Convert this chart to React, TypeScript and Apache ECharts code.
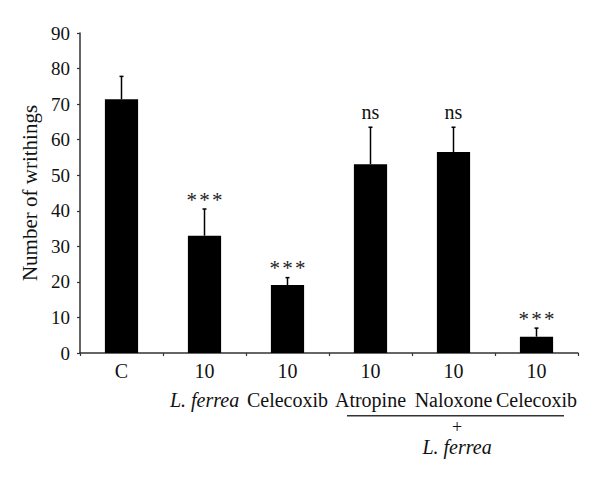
import React, { useEffect, useRef } from "react";
import * as echarts from "echarts";

const groups = ["C", "L. ferrea", "Celecoxib", "Atropine", "Naloxone", "Celecoxib"];
const doses = ["", "10", "10", "10", "10", "10"];
const italicGroup = [false, true, false, false, false, false];
const means = [71.4, 33.0, 19.1, 53.1, 56.5, 4.6];
const errorTops = [77.8, 40.5, 21.2, 63.5, 63.5, 7.0];
const marks = ["", "***", "***", "ns", "ns", "***"];
const yTicks = { min: 0, max: 90, interval: 10 };
const yTitle = "Number of writhings";
const bracketLabel = ["+", "L. ferrea"];

const FONT = "'Liberation Serif', 'DejaVu Serif', serif";

export default function App() {
  const ref = useRef<HTMLDivElement>(null);
  useEffect(() => {
    document.body.style.margin = "0";
    const chart = echarts.init(ref.current!, null, { renderer: "svg" });
    const errData = means.map((m, i) => [i, m, errorTops[i]]);
    chart.setOption({
      animation: false,
      grid: { left: 80, right: 22, top: 33, bottom: 126, containLabel: false, outerBoundsMode: "none" },
      xAxis: {
        type: "category",
        data: groups.map((g, i) => g + "#" + i),
        axisLine: { lineStyle: { color: "#333", width: 1.5 } },
        axisTick: { show: true, length: 3, lineStyle: { color: "#333", width: 1.2 } },
        axisLabel: {
          interval: 0,
          margin: 3,
          fontFamily: FONT,
          fontSize: 20,
          color: "#111",
          formatter: (_v: string, idx: number) => {
            const name = groups[idx];
            const nameStr = italicGroup[idx] ? `{i|${name}}` : `{r|${name}}`;
            if (!doses[idx]) return nameStr;
            return `{r|${doses[idx]}}\n${nameStr}`;
          },
          rich: {
            r: { fontFamily: FONT, fontSize: 20, color: "#111", lineHeight: 29 },
            i: { fontFamily: FONT, fontSize: 20, fontStyle: "italic", color: "#111", lineHeight: 29 },
          },
        },
      },
      yAxis: {
        type: "value",
        min: yTicks.min,
        max: yTicks.max,
        interval: yTicks.interval,
        name: yTitle,
        nameLocation: "middle",
        nameGap: 39,
        nameTextStyle: { fontFamily: FONT, fontSize: 21, color: "#111" },
        splitLine: { show: false },
        axisLine: { show: true, lineStyle: { color: "#333", width: 1.5 } },
        axisTick: { show: true, length: 3, lineStyle: { color: "#333", width: 1.2 } },
        axisLabel: { fontFamily: FONT, fontSize: 19, color: "#111", margin: 10 },
      },
      series: [
        {
          type: "bar",
          data: means,
          barWidth: "40%",
          itemStyle: { color: "#000" },
        },
        {
          type: "custom",
          data: errData,
          z: 3,
          renderItem: (params: any, api: any) => {
            const i = api.value(0);
            const base = api.coord([i, api.value(1)]);
            const top = api.coord([i, api.value(2)]);
            const mark = marks[params.dataIndex];
            const children: any[] = [
              {
                type: "line",
                shape: { x1: base[0], y1: base[1], x2: top[0], y2: top[1] },
                style: { stroke: "#000", lineWidth: 1.5 },
              },
              {
                type: "line",
                shape: { x1: top[0] - 2, y1: top[1], x2: top[0] + 2, y2: top[1] },
                style: { stroke: "#000", lineWidth: 1.5 },
              },
            ];
            if (mark) {
              const isStar = mark.indexOf("*") >= 0;
              if (isStar) {
                [-12.7, 0, 12.7].forEach((dx) => {
                  children.push({
                    type: "text",
                    x: top[0] + dx,
                    y: top[1] - 9.5,
                    style: {
                      text: "*",
                      fontFamily: FONT,
                      fontSize: 21,
                      fill: "#222",
                      align: "center",
                      verticalAlign: "middle",
                    },
                  });
                });
              } else {
                children.push({
                  type: "text",
                  x: top[0],
                  y: top[1] - 5,
                  style: {
                    text: mark,
                    fontFamily: FONT,
                    fontSize: 20,
                    fill: "#111",
                    align: "center",
                    verticalAlign: "bottom",
                  },
                });
              }
            }
            return { type: "group", children };
          },
        },
      ],
      graphic: [
        {
          type: "line",
          shape: { x1: 347, y1: 415.7, x2: 564, y2: 415.7 },
          style: { stroke: "#333", lineWidth: 1.5 },
        },
        {
          type: "text",
          x: 457,
          y: 426.5,
          style: { text: bracketLabel[0], fontFamily: FONT, fontSize: 18, fill: "#111", align: "center", verticalAlign: "middle" },
        },
        {
          type: "text",
          x: 457,
          y: 447,
          style: { text: bracketLabel[1], fontFamily: FONT, fontSize: 20, fontStyle: "italic", fill: "#111", align: "center", verticalAlign: "middle" },
        },
      ],
    });
    return () => chart.dispose();
  }, []);
  return <div ref={ref} style={{ width: 600, height: 479 }} />;
}
